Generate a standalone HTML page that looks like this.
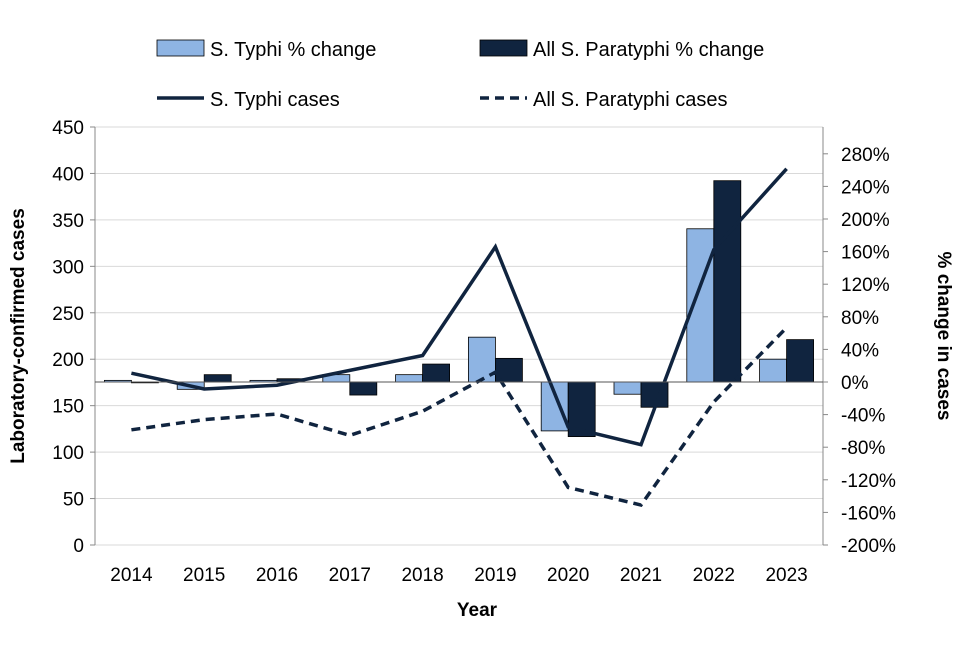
<!DOCTYPE html>
<html><head><meta charset="utf-8"><style>
body{margin:0;background:#fff;font-family:"Liberation Sans",Arial,sans-serif}
svg text{font-family:"Liberation Sans",Arial,sans-serif;fill:#000}
</style></head><body>
<svg id="c" width="960" height="640" viewBox="0 0 960 640">
<g id="grid"></g><g id="bars"></g><g id="lines"></g><g id="axes"></g>
<g>
<rect x="157" y="40" width="47" height="16" fill="#8eb4e3" stroke="#000" stroke-width="0.8"/>
<text x="210" y="56" font-size="20">S. Typhi % change</text>
<rect x="480" y="40" width="47" height="16" fill="#10243f" stroke="#000" stroke-width="0.8"/>
<text x="533" y="56" font-size="20">All S. Paratyphi % change</text>
<line x1="157" y1="98" x2="204" y2="98" stroke="#10243f" stroke-width="3.5"/>
<text x="210" y="106" font-size="20">S. Typhi cases</text>
<line x1="480" y1="98" x2="527" y2="98" stroke="#10243f" stroke-width="3.5" stroke-dasharray="9,6"/>
<text x="533" y="106" font-size="20">All S. Paratyphi cases</text>
</g>
<text x="0" y="0" font-size="19" font-weight="bold" text-anchor="middle" transform="translate(24,336) rotate(-90)">Laboratory-confirmed cases</text>
<text x="0" y="0" font-size="19" font-weight="bold" text-anchor="middle" transform="translate(938,336) rotate(90)">% change in cases</text>
<text x="477" y="616" font-size="19" font-weight="bold" text-anchor="middle">Year</text>
</svg>
<script>
const years=["2014","2015","2016","2017","2018","2019","2020","2021","2022","2023"];
const typhiCases=[185,168,172,188,204,321,127,108,318,405];
const paraCases=[124,135,141,118,144,186,62,43,154,234];
const typhiPct=[2,-9,2,9,9,55,-60,-15,188,28];
const paraPct=[-1,9,4,-16,22,29,-67,-31,247,52];
const leftTicks=[0,50,100,150,200,250,300,350,400,450];
const rightTicks=[-200,-160,-120,-80,-40,0,40,80,120,160,200,240,280];
const NS="http://www.w3.org/2000/svg";
const X0=95,X1=823,band=(X1-X0)/years.length;
const yL=v=>545-v*(418/450);
const yR=v=>382-v*0.815;
const xc=i=>X0+band*(i+0.5);
function mk(p,t,a){const e=document.createElementNS(NS,t);for(const k in a)e.setAttribute(k,a[k]);p.appendChild(e);return e;}
const grid=document.getElementById('grid'),axes=document.getElementById('axes'),bars=document.getElementById('bars'),lines=document.getElementById('lines');
leftTicks.forEach(v=>{
 const g=mk(grid,'line',{x1:X0,x2:X1,y1:yL(v),y2:yL(v),stroke:'#d9d9d9','stroke-width':1});
 
 
 const t=mk(axes,'text',{x:X0-11,y:yL(v)+7,'font-size':19,'text-anchor':'end'});t.textContent=v;
 
 
 mk(axes,'line',{x1:X0-5,x2:X0,y1:yL(v),y2:yL(v),stroke:'#888'});
});
rightTicks.forEach(v=>{
 const t=mk(axes,'text',{x:X1+18,y:yR(v)+7,'font-size':19});t.textContent=v+'%';
 
 
 mk(axes,'line',{x1:X1,x2:X1+5,y1:yR(v),y2:yR(v),stroke:'#888'});
});
mk(axes,'line',{x1:X0,x2:X0,y1:yL(450),y2:545,stroke:'#888'});
mk(axes,'line',{x1:X1,x2:X1,y1:yL(450),y2:545,stroke:'#888'});
mk(axes,'line',{x1:X0,x2:X1,y1:yR(0),y2:yR(0),stroke:'#555'});
years.forEach((y,i)=>{
 const t=mk(axes,'text',{x:xc(i),y:581,'font-size':19,'text-anchor':'middle'});t.textContent=y;
 
 
 const bw=27;
 const a=typhiPct[i],b=paraPct[i];
 const r1=mk(bars,'rect',{x:xc(i)-bw,y:Math.min(yR(a),yR(0)),width:bw,height:Math.abs(yR(a)-yR(0)),fill:'#8eb4e3',stroke:'#000','stroke-width':0.8});
 
 
 const r2=mk(bars,'rect',{x:xc(i),y:Math.min(yR(b),yR(0)),width:bw,height:Math.abs(yR(b)-yR(0)),fill:'#10243f',stroke:'#000','stroke-width':0.8});
 
 
});
const p1=mk(lines,'polyline',{points:typhiCases.map((v,i)=>xc(i)+','+yL(v)).join(' '),fill:'none',stroke:'#10243f','stroke-width':3.5});


const p2=mk(lines,'polyline',{points:paraCases.map((v,i)=>xc(i)+','+yL(v)).join(' '),fill:'none',stroke:'#10243f','stroke-width':3.5,'stroke-dasharray':'9,6'});


</script>
</body></html>
